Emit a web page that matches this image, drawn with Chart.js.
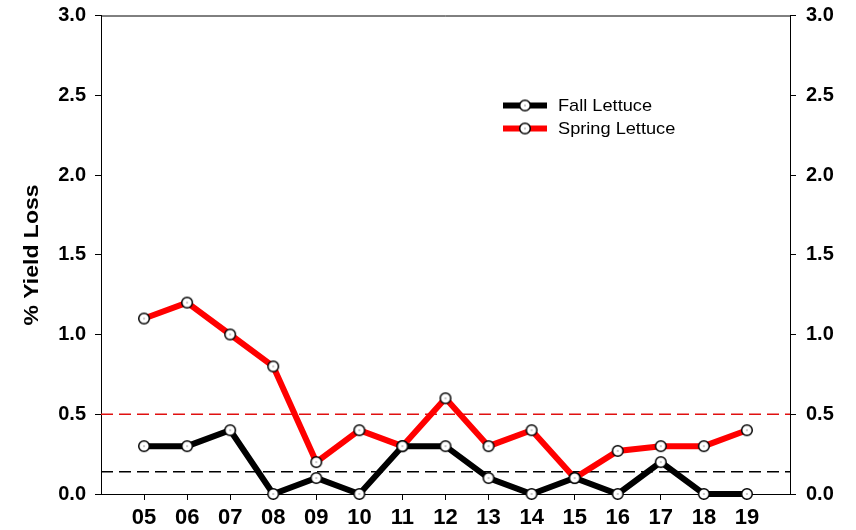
<!DOCTYPE html>
<html>
<head>
<meta charset="utf-8">
<script src="https://cdn.jsdelivr.net/npm/chart.js@4"></script>
<style>
  body { margin: 0; background: #fff; }
  canvas { display: block; }
</style>
</head>
<body>
<canvas id="chart" width="856" height="530"></canvas>
<script>
// seasons (x tick labels)
const years = ['05', '06', '07', '08', '09', '10', '11', '12', '13', '14', '15', '16', '17', '18', '19'];
const fallLoss = [0.3, 0.3, 0.4, 0.0, 0.1, 0.0, 0.3, 0.3, 0.1, 0.0, 0.1, 0.0, 0.2, 0.0, 0.0];
const springLoss = [1.1, 1.2, 1.0, 0.8, 0.2, 0.4, 0.3, 0.6, 0.3, 0.4, 0.1, 0.27, 0.3, 0.3, 0.4];
const springAvg = 0.5;
const fallAvg = 0.14;
const yTicks = [0, 0.5, 1.0, 1.5, 2.0, 2.5, 3.0];

const FONT = "'Liberation Sans', Arial, sans-serif";

// white circle marker with a tiny centre dot
const marker = document.createElement('canvas');
marker.width = marker.height = 14;
(function() {
  const c = marker.getContext('2d');
  c.beginPath();
  c.arc(7, 7, 5.3, 0, Math.PI * 2);
  c.fillStyle = '#fff';
  c.fill();
  c.lineWidth = 1.5;
  c.strokeStyle = '#000';
  c.stroke();
  c.fillStyle = '#333';
  c.fillRect(6.5, 6.5, 1, 1);
})();

const xs = years.map(y => parseInt(y, 10));
const pts = vals => vals.map((v, i) => ({ x: xs[i], y: v }));
const flat = v => [{ x: 4, y: v }, { x: 20, y: v }];

const frame = {
  id: 'frame',
  afterDatasetsDraw(chart) {
    const { ctx, chartArea: a } = chart;
    ctx.save();
    ctx.strokeStyle = '#000';
    ctx.lineWidth = 1;
    ctx.beginPath();
    ctx.moveTo(a.left, a.top + 0.5);
    ctx.lineTo(a.right, a.top + 0.5);
    ctx.stroke();

    // y title (slightly stretched like the original)
    ctx.fillStyle = '#000';
    ctx.font = 'bold 20px ' + FONT;
    ctx.translate(38, 255);
    ctx.rotate(-Math.PI / 2);
    ctx.scale(1.15, 1);
    ctx.textAlign = 'center';
    ctx.textBaseline = 'alphabetic';
    ctx.fillText('% Yield Loss', 0, 0);
    ctx.restore();

    // legend
    const items = [['Fall Lettuce', '#000', 105.5], ['Spring Lettuce', '#ff0000', 128.5]];
    ctx.save();
    ctx.font = '17px ' + FONT;
    ctx.textBaseline = 'middle';
    items.forEach(([label, col, y]) => {
      ctx.strokeStyle = col;
      ctx.lineWidth = 6;
      ctx.beginPath();
      ctx.moveTo(503, y);
      ctx.lineTo(547, y);
      ctx.stroke();
      ctx.drawImage(marker, 525 - 7, y - 7);
      ctx.save();
      ctx.translate(558, y + 1);
      ctx.scale(1.07, 1);
      ctx.fillStyle = '#000';
      ctx.fillText(label, 0, 0);
      ctx.restore();
    });
    ctx.restore();
  }
};

const yAxis = (pos, pad, width) => ({
  type: 'linear',
  position: pos,
  min: 0,
  max: 3,
  afterBuildTicks: s => { s.ticks = yTicks.map(v => ({ value: v })); },
  afterFit: s => { s.width = width; s.paddingTop = 0; s.paddingBottom = 0; },
  grid: { drawOnChartArea: false, drawTicks: true, tickLength: 6, color: '#000', tickColor: '#000' },
  border: { display: true, color: '#000', width: 1 },
  ticks: {
    padding: pad,
    color: '#000',
    font: { family: FONT, size: 20, weight: 'bold' },
    callback: v => v.toFixed(1)
  }
});

new Chart(document.getElementById('chart'), {
  type: 'line',
  data: {
    datasets: [
      {
        label: 'Fall Lettuce',
        data: pts(fallLoss),
        borderColor: '#000',
        borderWidth: 6,
        pointStyle: marker,
        pointRadius: 6,
        clip: false
      },
      {
        label: 'Spring Lettuce',
        data: pts(springLoss),
        borderColor: '#ff0000',
        borderWidth: 6,
        pointStyle: marker,
        pointRadius: 6,
        clip: false
      },
      {
        label: 'fall avg',
        data: flat(fallAvg),
        borderColor: '#000',
        borderWidth: 1.5,
        borderDash: [12, 6],
        pointRadius: 0
      },
      {
        label: 'spring avg',
        data: flat(springAvg),
        borderColor: '#e01010',
        borderWidth: 1.5,
        borderDash: [12, 6],
        pointRadius: 0
      }
    ]
  },
  options: {
    responsive: false,
    animation: false,
    layout: { padding: { top: 15.5, left: 0, right: 0, bottom: 0 } },
    plugins: { legend: { display: false }, tooltip: { enabled: false } },
    scales: {
      x: {
        type: 'linear',
        min: 4,
        max: 20,
        afterBuildTicks: s => { s.ticks = xs.map(v => ({ value: v })); },
        afterFit: s => { s.height = 36; s.paddingLeft = 0; s.paddingRight = 0; },
        grid: { drawOnChartArea: false, drawTicks: true, tickLength: 6, color: '#000', tickColor: '#000' },
        border: { display: true, color: '#000', width: 1 },
        ticks: {
          padding: 5,
          color: '#000',
          autoSkip: false,
          maxRotation: 0,
          font: { family: FONT, size: 22, weight: 'bold' },
          callback: (v) => years[xs.indexOf(v)]
        }
      },
      y: yAxis('left', 9, 101),
      y2: yAxis('right', 10, 66)
    }
  },
  plugins: [frame]
});
</script>
</body>
</html>
